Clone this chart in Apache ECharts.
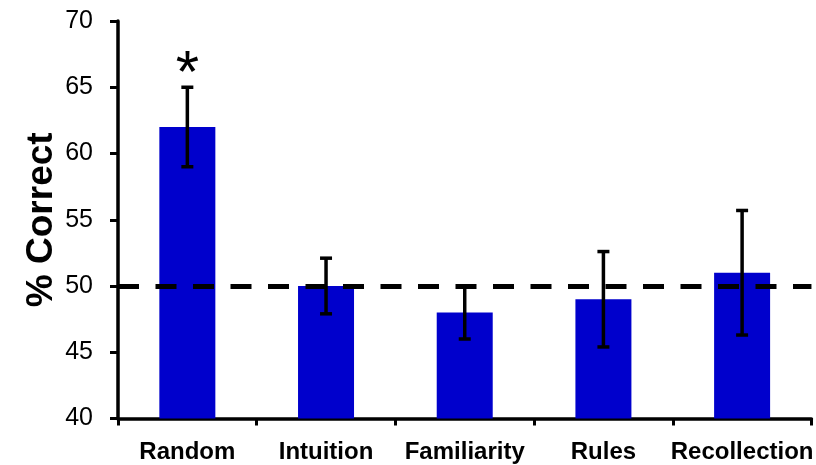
<!DOCTYPE html>
<html>
<head>
<meta charset="utf-8">
<script src="https://cdn.jsdelivr.net/npm/echarts@6/dist/echarts.min.js"></script>
<style>html,body{margin:0;padding:0;background:#fff}#c{width:816px;height:465px}</style>
</head>
<body>
<div id="c"></div>
<script>
const categories = ['Random', 'Intuition', 'Familiarity', 'Rules', 'Recollection'];
const values = [62, 50, 48, 49, 51];
const errLow = [59, 47.9, 46, 45.4, 46.3];
const errHigh = [65, 52.1, 50, 52.6, 55.7];
const annotations = ['*', '', '', '', ''];
const chanceLevel = 50;
const yTicks = { min: 40, max: 70, interval: 5 };

const chart = echarts.init(document.getElementById('c'), null, { renderer: 'canvas' });
const font = '"Liberation Sans", Arial, sans-serif';

const errData = categories.map((c, i) => [i, errLow[i], errHigh[i], annotations[i]]);

chart.setOption({
  animation: false,
  backgroundColor: '#ffffff',
  grid: { left: 118, right: 0, top: 21, bottom: 46.5, containLabel: false },
  xAxis: {
    type: 'category',
    data: categories,
    boundaryGap: true,
    axisLine: { show: true, lineStyle: { color: '#000', width: 3.5 } },
    axisTick: { show: true, alignWithLabel: false, length: 7, lineStyle: { color: '#000', width: 3 } },
    axisLabel: { color: '#000', fontFamily: font, fontWeight: 'bold', fontSize: 24, margin: 22, interval: 0 },
    splitLine: { show: false }
  },
  yAxis: {
    type: 'value',
    min: yTicks.min, max: yTicks.max, interval: yTicks.interval,
    name: '% Correct',
    nameLocation: 'middle',
    nameRotate: 90,
    nameGap: 58,
    nameMoveOverlap: false,
    nameTextStyle: { color: '#000', fontFamily: font, fontWeight: 'bold', fontSize: 37 },
    axisLine: { show: true, lineStyle: { color: '#000', width: 3.5 } },
    axisTick: { show: true, length: 8, lineStyle: { color: '#000', width: 3 } },
    axisLabel: { color: '#000', fontFamily: font, fontSize: 25, margin: 25 },
    splitLine: { show: false }
  },
  series: [
    {
      type: 'bar',
      data: values,
      barWidth: 56,
      itemStyle: { color: '#0000CC' },
      markLine: {
        silent: true,
        symbol: 'none',
        label: { show: false },
        lineStyle: { color: '#000', width: 5, type: [21, 16.5] },
        data: [{ yAxis: chanceLevel }]
      },
      z: 2
    },
    {
      type: 'custom',
      data: errData,
      z: 5,
      renderItem: function (params, api) {
        const x = api.value(0);
        const lo = api.coord([x, api.value(1)]);
        const hi = api.coord([x, api.value(2)]);
        const half = 6;
        const style = { stroke: '#000', lineWidth: 3.5 };
        const children = [
          { type: 'line', shape: { x1: lo[0], y1: lo[1], x2: hi[0], y2: hi[1] }, style: style },
          { type: 'line', shape: { x1: hi[0] - half, y1: hi[1], x2: hi[0] + half, y2: hi[1] }, style: style },
          { type: 'line', shape: { x1: lo[0] - half, y1: lo[1], x2: lo[0] + half, y2: lo[1] }, style: style }
        ];
        const ann = errData[params.dataIndex][3];
        if (ann) {
          children.push({
            type: 'text',
            style: {
              text: ann, x: hi[0], y: hi[1] - 12,
              fill: '#000', font: '60px ' + font,
              align: 'center', verticalAlign: 'middle'
            }
          });
        }
        return { type: 'group', children: children };
      }
    }
  ]
});
</script>
</body>
</html>
